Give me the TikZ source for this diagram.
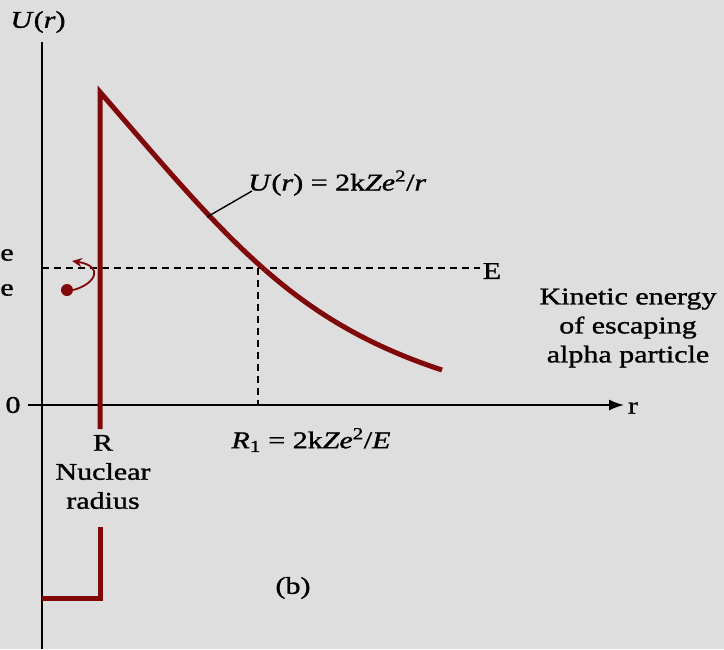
\documentclass[tikz,border=0pt]{standalone}
\usepackage{fontspec}
\setmainfont[FakeStretch=1.25,FakeBold=1.2]{Liberation Serif}
\usetikzlibrary{arrows.meta}
\definecolor{bg}{RGB}{222,222,222}
\definecolor{barred}{RGB}{128,8,8}
\tikzset{
  lbl/.style={inner sep=0pt, font=\fontsize{24}{29}\selectfont, text=black},
  axisline/.style={line width=1.8pt, black},
  redline/.style={line width=5pt, barred, line join=miter},
  guide/.style={line width=1.4pt, black, dash pattern=on 7pt off 5pt},
}
\begin{document}
\begin{tikzpicture}[x=1pt,y=-1pt]
\fill[bg] (0,0) rectangle (724,649);
\useasboundingbox (0,0) rectangle (724,649);
% coordinates
\coordinate (ytop) at (42,42);
\coordinate (ybot) at (42,649);
\coordinate (xl) at (28,405);
\coordinate (xr) at (624,405);
\coordinate (peak) at (100,92);
\coordinate (tail) at (442,370);
\coordinate (eL) at (42,268);
\coordinate (eR) at (480,268);
\coordinate (cross) at (258,268);
\coordinate (r1) at (258,405);
\coordinate (cpt) at (207,217);
\coordinate (lead) at (252,191);
% axes
\draw[axisline] (ytop) -- (ybot);
\draw[axisline, -{Latex[length=15pt,width=11pt]}] (xl) -- (xr);
% energy level and R1
\draw[guide] (eL) -- (eR);
\draw[guide] (cross) -- (r1);
% potential
\draw[redline] (100,429) -- (peak) .. controls (228,240) and (292,320.5) .. (tail);
\draw[redline] (100,527) -- (100,598) -- (42,598);
% particle
\node[circle, fill=barred, inner sep=0pt, minimum size=12pt] (alpha) at (67,290) {};
\draw[barred, line width=1.8pt, -{Stealth[length=10pt,width=9pt]}] (alpha.east) .. controls (96,284) and (104,266) .. (72,261);
% labels
\node[lbl] (U) at (38,22) {\textit{U}(\textit{r})};
\node[lbl, anchor=west] (ulabel) at (248,183) {\textit{U}(\textit{r}) = 2k\textit{Ze}\textsuperscript{2}/\textit{r}};
\draw[line width=1.4pt] (cpt) -- (lead);
\node[lbl] (E) at (492,271) {E};
\node[lbl, align=center] (ke) at (628,328) {Kinetic energy\\of escaping\\alpha particle};
\node[lbl] (zero) at (13,405) {0};
\node[lbl] (r) at (633,408) {r};
\node[lbl] (e1) at (7,255) {e};
\node[lbl] (e2) at (7,290) {e};
\node[lbl, align=center] (R) at (103,472) {R\\Nuclear\\radius};
\node[lbl] (R1) at (311,440) {\textit{R}\textsubscript{1} = 2k\textit{Ze}\textsuperscript{2}/\textit{E}};
\node[lbl] (b) at (293,588) {(b)};
\end{tikzpicture}
\end{document}
